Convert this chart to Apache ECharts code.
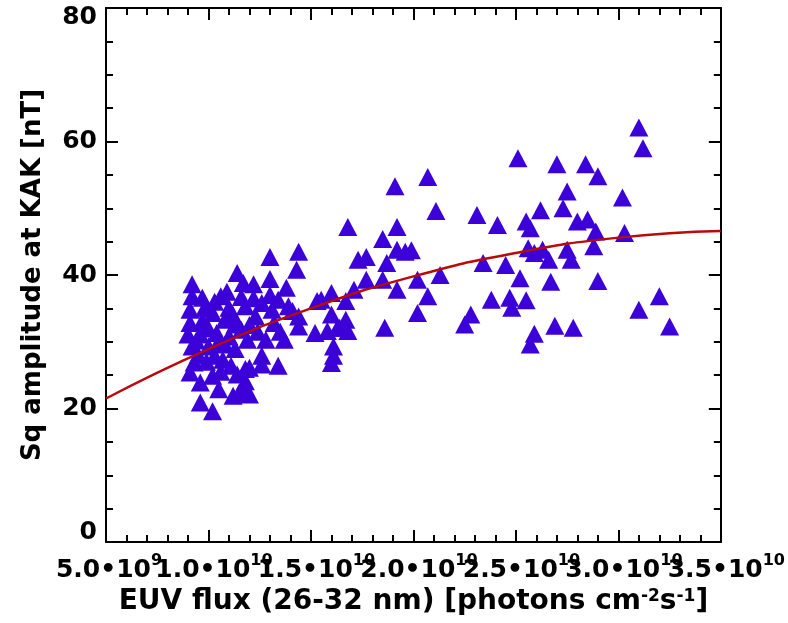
<!DOCTYPE html>
<html>
<head>
<meta charset="utf-8">
<script src="https://cdn.jsdelivr.net/npm/echarts@6/dist/echarts.min.js"></script>
<style>
  html, body { margin: 0; padding: 0; background: #fff; }
  #chart { width: 788px; height: 623px; }
</style>
</head>
<body>
<div id="chart"></div>
<script>
// EUV flux in units of 1e10 photons cm-2 s-1, Sq amplitude in nT
const fluxE10 = [
  3.10, 3.12, 2.51, 2.70, 2.84, 2.90, 2.75, 3.02, 2.73, 2.62,
  2.31, 2.41, 2.55, 2.57, 2.80, 2.85, 2.89, 3.03, 2.88, 2.56,
  2.59, 2.63, 2.66, 2.75, 2.77, 2.34, 2.45, 2.52, 2.67, 2.90,
  2.38, 2.47, 2.48, 2.55, 2.28, 2.25, 2.69, 2.78, 2.59, 2.57,
  3.10, 3.20, 3.25,
  2.07, 1.91, 2.11, 1.68, 1.92, 1.85, 1.92, 1.96, 1.99, 1.73,
  1.77, 1.87, 1.77, 1.85, 2.02, 2.13, 1.92, 1.71, 2.07, 2.02,
  1.86, 1.60, 1.53, 1.55, 1.67, 1.60, 1.67, 1.52, 1.58, 1.63,
  1.68, 1.61, 1.61, 1.60, 1.64,
  1.44, 1.30, 1.43, 1.30, 1.22, 1.38, 1.17, 1.34, 1.39, 1.18,
  1.23, 1.31, 1.44, 1.44, 1.37, 1.28, 1.19, 1.26, 1.34, 1.26,
  1.20, 1.18, 1.17, 1.20, 1.14,
  0.92, 1.06, 0.92, 0.97, 0.91, 1.02, 1.10, 0.91, 0.97, 1.08,
  1.13, 0.90, 0.96, 1.04, 1.10, 0.92, 1.00, 1.08, 1.13, 0.93,
  1.03, 1.11, 1.18, 0.91, 0.96, 1.02, 1.05, 1.12, 1.15, 0.96,
  1.02, 1.14,
  1.00, 1.05, 0.98, 1.12, 1.16, 1.07, 0.99, 1.20, 1.24, 1.22,
  1.26, 1.32, 1.35, 0.94, 1.03, 1.09, 1.16, 1.30, 1.41, 0.95,
  1.06
];
const sqAmp = [
  62.1, 59.0, 57.5, 56.6, 56.6, 54.8, 52.5, 51.6, 50.0, 49.7,
  49.0, 47.5, 48.0, 47.0, 48.0, 48.3, 46.5, 46.3, 44.3, 44.0,
  43.3, 43.8, 42.3, 43.8, 42.3, 41.8, 41.5, 39.5, 39.0, 39.1,
  36.3, 36.6, 35.1, 36.2, 34.1, 32.6, 32.4, 32.1, 31.2, 29.6,
  34.8, 36.8, 32.3,
  54.7, 53.3, 49.6, 47.2, 47.2, 45.4, 43.8, 43.5, 43.7, 42.3,
  42.7, 41.8, 39.3, 39.3, 39.3, 40.0, 37.8, 37.8, 36.8, 34.3,
  32.1, 37.3, 36.1, 36.3, 36.1, 34.1, 33.3, 31.3, 31.6, 32.1,
  31.6, 29.3, 27.9, 26.8, 32.1,
  43.5, 42.7, 40.8, 39.4, 38.6, 38.1, 38.8, 36.3, 35.3, 35.3,
  33.8, 34.8, 33.8, 32.3, 30.3, 30.3, 30.3, 27.9, 26.4, 26.6,
  26.1, 24.1, 22.9, 22.1, 40.3,
  38.6, 36.8, 36.8, 36.6, 34.8, 34.3, 35.1, 32.8, 33.1, 33.3,
  32.6, 31.1, 31.1, 31.3, 30.8, 29.3, 29.3, 29.6, 28.9, 26.9,
  27.9, 26.4, 25.9, 25.4, 23.9, 24.9, 22.9, 21.9, 22.4, 20.9,
  19.6, 25.1,
  32.0, 30.0, 35.0, 34.0, 31.8, 27.3, 27.0, 32.5, 31.5, 36.5,
  35.8, 32.8, 31.5, 30.2, 36.0, 37.5, 36.7, 37.0, 34.6, 28.0,
  25.5
];

// fitted curve
const fitFluxE10 = [0.5, 1.0, 1.5, 2.0, 2.5, 3.0, 3.5];
const fitAmp = [21.5, 28.9, 35.0, 39.8, 43.3, 45.6, 46.6];

const FONT = 'DejaVu Sans';

const chart = echarts.init(document.getElementById('chart'));

function fluxLabel(v) {
  const small = v < 1;
  const mant = (small ? v * 10 : v).toFixed(1);
  return small ? `{b9|${mant}•10}{s|9}` : `{b10|${mant}•10}{s|10}`;
}
// labels are split over two bottom axes so ECharts does not drop the overlapping ones
const halfLabel = (v) => (Math.round(v * 2) % 2 === 1 ? fluxLabel(v) : '');
const wholeLabel = (v) => (Math.round(v * 2) % 2 === 0 ? fluxLabel(v) : '');

function yLabel(v) {
  if (v === 80) return '{t|80}';
  if (v === 0) return '{u|0}';
  return String(v);
}

const axisLine = () => ({ show: true, onZero: false, lineStyle: { color: '#000', width: 2 } });
const majorTick = () => ({ show: true, inside: true, length: 12, lineStyle: { color: '#000', width: 2 } });
const minorTick = (n) => ({ show: true, splitNumber: n, length: 7, lineStyle: { color: '#000', width: 2 } });

const baseTok = { fontSize: 25, fontWeight: 'bold', fontFamily: FONT, color: '#000', lineHeight: 34 };
const xRich = {
  b9: Object.assign({ padding: [0, 0, 0, 6] }, baseTok),
  b10: Object.assign({ padding: [0, 0, 0, 11] }, baseTok),
  s: { fontSize: 16, fontWeight: 'bold', fontFamily: FONT, color: '#000', verticalAlign: 'top', lineHeight: 18 }
};

const option = {
  animation: false,
  grid: { left: 106, right: 64, top: 8, bottom: 81 },
  xAxis: [
    {
      type: 'value', min: 0.5, max: 3.5, interval: 0.5,
      axisLine: axisLine(), axisTick: majorTick(), minorTick: minorTick(5),
      splitLine: { show: false },
      axisLabel: { margin: 11, showMinLabel: true, showMaxLabel: true, formatter: halfLabel, rich: xRich },
      name: 'EUV flux (26-32 nm) [photons cm{s|-2}s{s|-1}]',
      nameLocation: 'middle',
      nameGap: 46,
      nameTextStyle: {
        fontSize: 28, fontWeight: 'bold', fontFamily: FONT, color: '#000',
        rich: {
          s: { fontSize: 17, fontWeight: 'bold', fontFamily: FONT, color: '#000', verticalAlign: 'top', lineHeight: 17 }
        }
      }
    },
    {
      type: 'value', position: 'top', min: 0.5, max: 3.5, interval: 0.5,
      axisLine: axisLine(), axisTick: majorTick(), minorTick: minorTick(5),
      splitLine: { show: false }, axisLabel: { show: false }
    },
    {
      type: 'value', position: 'bottom', min: 0.5, max: 3.5, interval: 0.5,
      axisLine: { show: false }, axisTick: { show: false }, minorTick: { show: false },
      splitLine: { show: false },
      axisLabel: { margin: 11, showMinLabel: true, showMaxLabel: true, formatter: wholeLabel, rich: xRich }
    }
  ],
  yAxis: [
    {
      type: 'value', min: 0, max: 80, interval: 20,
      axisLine: axisLine(), axisTick: majorTick(), minorTick: minorTick(4),
      splitLine: { show: false },
      axisLabel: {
        margin: 9,
        showMinLabel: true, showMaxLabel: true,
        fontSize: 25, fontWeight: 'bold', fontFamily: FONT, color: '#000',
        formatter: yLabel,
        rich: {
          t: { fontSize: 25, fontWeight: 'bold', fontFamily: FONT, color: '#000', padding: [18, 0, 0, 0] },
          u: { fontSize: 25, fontWeight: 'bold', fontFamily: FONT, color: '#000', padding: [0, 0, 20, 0] }
        }
      },
      name: 'Sq amplitude at KAK [nT]',
      nameLocation: 'middle',
      nameGap: 60,
      nameTextStyle: { fontSize: 26, fontWeight: 'bold', fontFamily: FONT, color: '#000' }
    },
    {
      type: 'value', position: 'right', min: 0, max: 80, interval: 20,
      axisLine: axisLine(), axisTick: majorTick(), minorTick: minorTick(4),
      splitLine: { show: false }, axisLabel: { show: false }
    }
  ],
  series: [
    {
      type: 'scatter',
      symbol: 'triangle',
      symbolSize: [19, 18],
      itemStyle: { color: '#3c00d8', opacity: 1 },
      data: fluxE10.map((x, i) => [x, sqAmp[i]]),
      z: 2
    },
    {
      type: 'line',
      smooth: true,
      showSymbol: false,
      lineStyle: { color: '#b80a0a', width: 2.5 },
      data: fitFluxE10.map((x, i) => [x, fitAmp[i]]),
      z: 3
    }
  ]
};

chart.setOption(option);
</script>
</body>
</html>
